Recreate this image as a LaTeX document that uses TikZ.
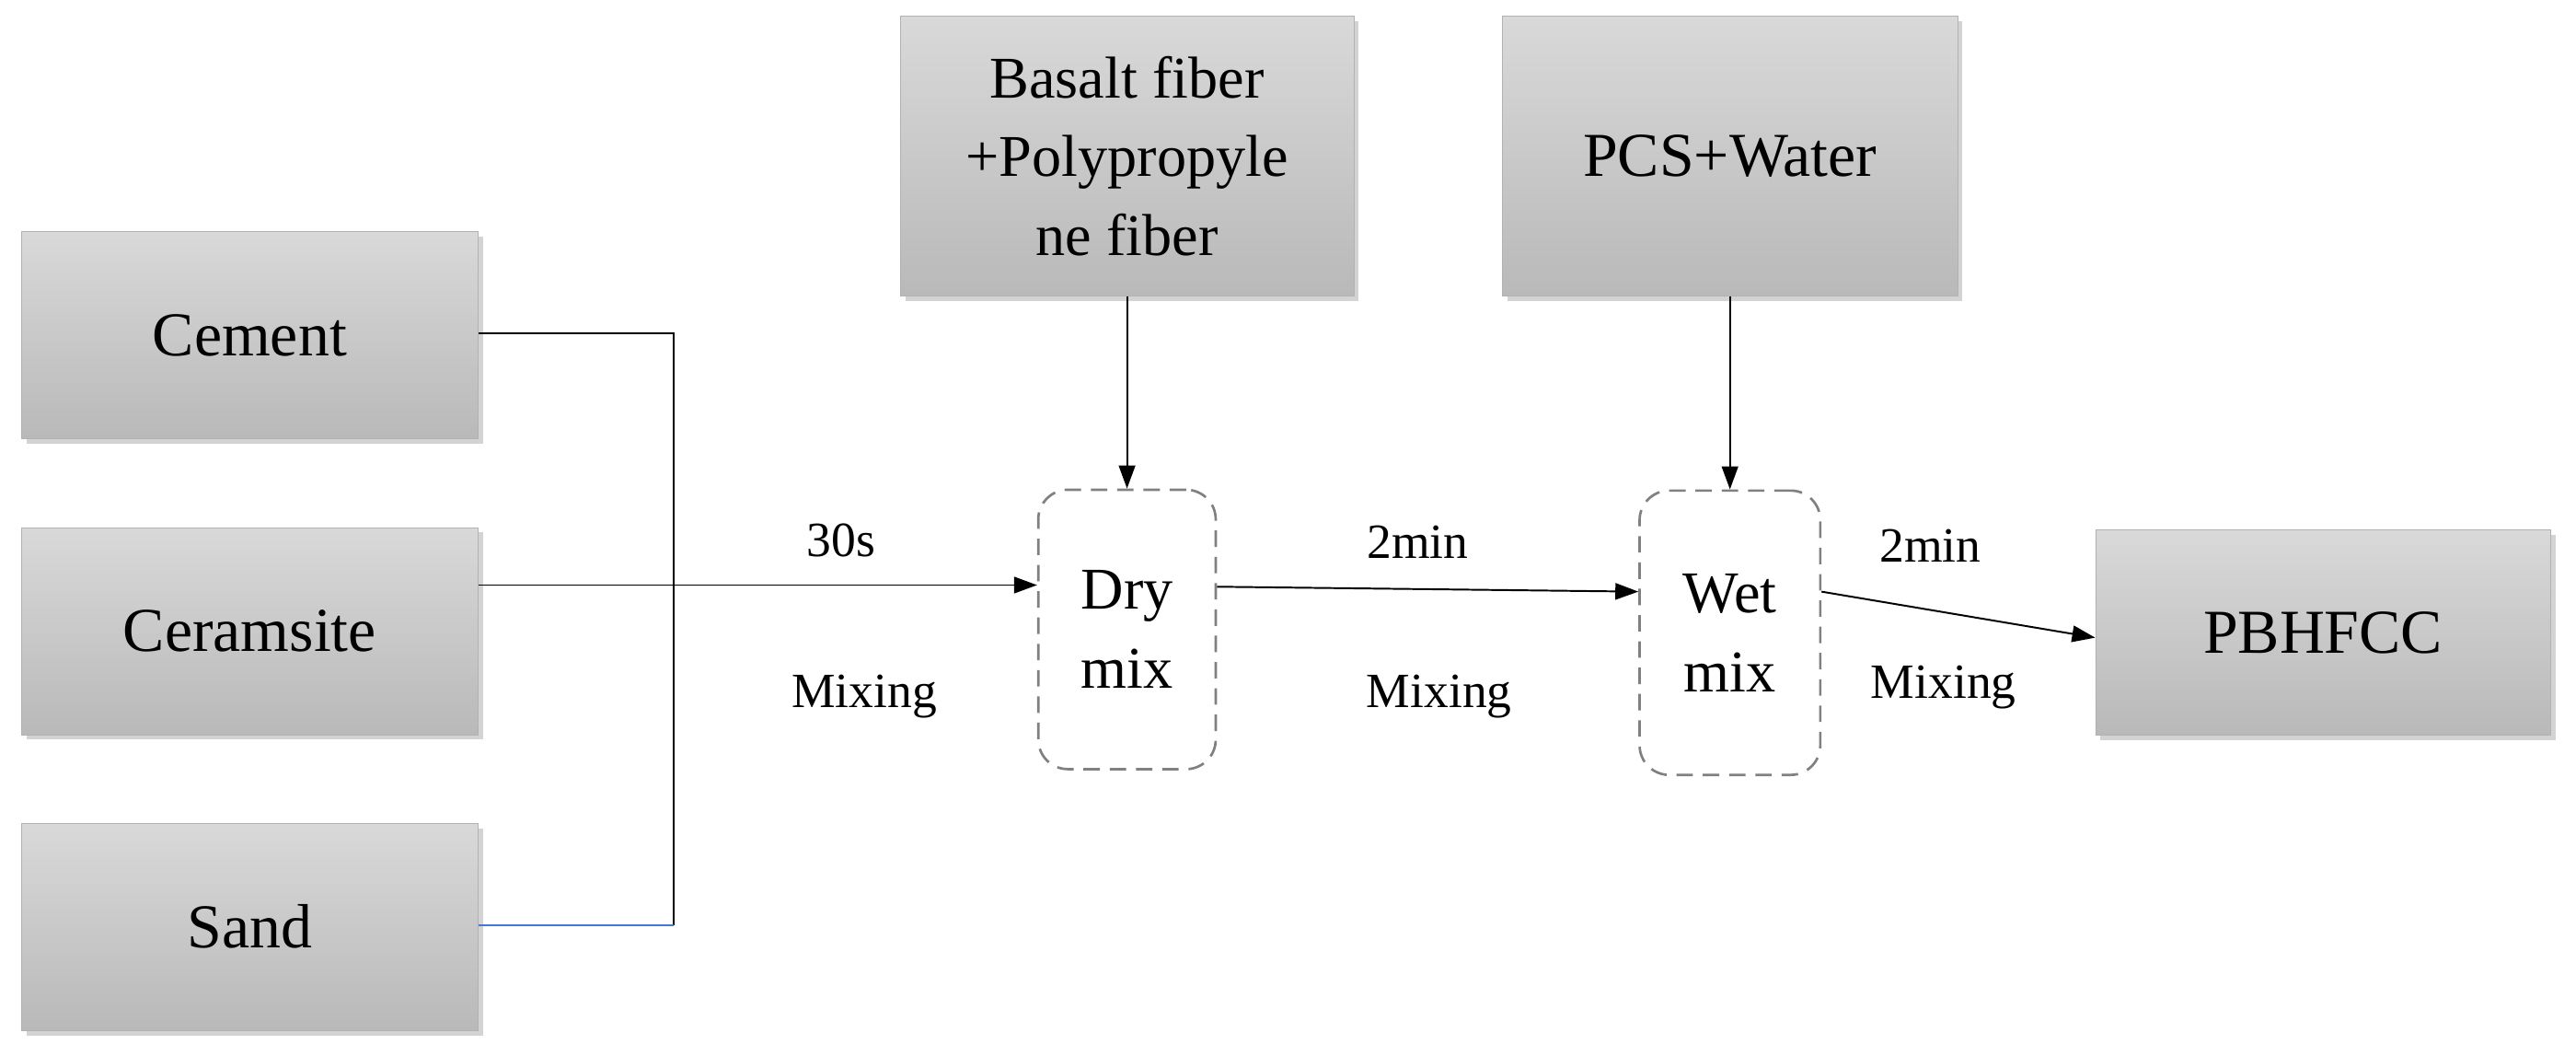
\documentclass[tikz,border=0pt]{standalone}
\usepackage{fontspec}
\setmainfont{Liberation Serif}
\usetikzlibrary{shadows,arrows.meta}
\begin{document}
\begin{tikzpicture}[x=1pt,y=-1pt,
  gbox/.style={draw=gray!60,top color=gray!30,bottom color=gray!55,drop shadow={shadow xshift=3pt,shadow yshift=-3pt,opacity=0.35},
    minimum width=278pt,minimum height=126pt,align=center,font=\fontsize{38}{44}\selectfont,inner sep=0pt},
  mixbox/.style={draw=gray,dashed,dash pattern=on 10pt off 6pt,line width=1.5pt,rounded corners=18pt,fill=white,
    minimum width=108pt,minimum height=170pt,align=center,font=\fontsize{36}{48}\selectfont,inner sep=0pt},
  lab/.style={font=\fontsize{30}{36}\selectfont},
  ln/.style={line width=1.1pt},
  arr/.style={ln,-{Triangle[length=14pt,width=10pt]}}]
\useasboundingbox (0,0) rectangle (1568,642);
\node[gbox] (cem) at (152,204) {Cement};
\node[gbox] (cer) at (152,384) {Ceramsite};
\node[gbox] (san) at (152,564) {Sand};
\node[gbox,minimum width=276pt,minimum height=170pt,font=\fontsize{36}{48}\selectfont] (bas) at (686,95) {Basalt fiber\\+Polypropyle\\ne fiber};
\node[gbox,minimum width=277pt,minimum height=170pt] (pcs) at (1053,95) {PCS+Water};
\node[gbox,minimum width=277pt,minimum height=125pt] (pbh) at (1414,385) {PBHFCC};
\node[mixbox] (dry) at (686,383) {Dry\\mix};
\node[mixbox,minimum width=110pt,minimum height=173pt] (wet) at (1053,385) {Wet\\mix};
\coordinate (j1) at (410,203);
\coordinate (j2) at (410,563);
\draw[ln] (cem.east|-j1) -- (j1) -- (j2);
\draw[ln,draw={rgb,255:red,70;green,120;blue,210}] (san.east|-j2) -- (j2);
\draw[arr] (cer.east|-0,356) -- (dry.west|-0,356);
\draw[arr] (dry.east|-0,357) -- (wet.west|-0,360);
\draw[arr] (wet.east|-0,360) -- (pbh.west|-0,388);
\draw[arr] (bas.south) -- (dry.north);
\draw[arr] (pcs.south) -- (wet.north);
\node[lab] (l1) at (512,329) {30s};
\node[lab] (l2) at (526,424) {Mixing};
\node[lab] (l3) at (863,330) {2min};
\node[lab] (l4) at (876,424) {Mixing};
\node[lab] (l5) at (1175,332) {2min};
\node[lab] (l6) at (1183,418) {Mixing};
\end{tikzpicture}
\end{document}
